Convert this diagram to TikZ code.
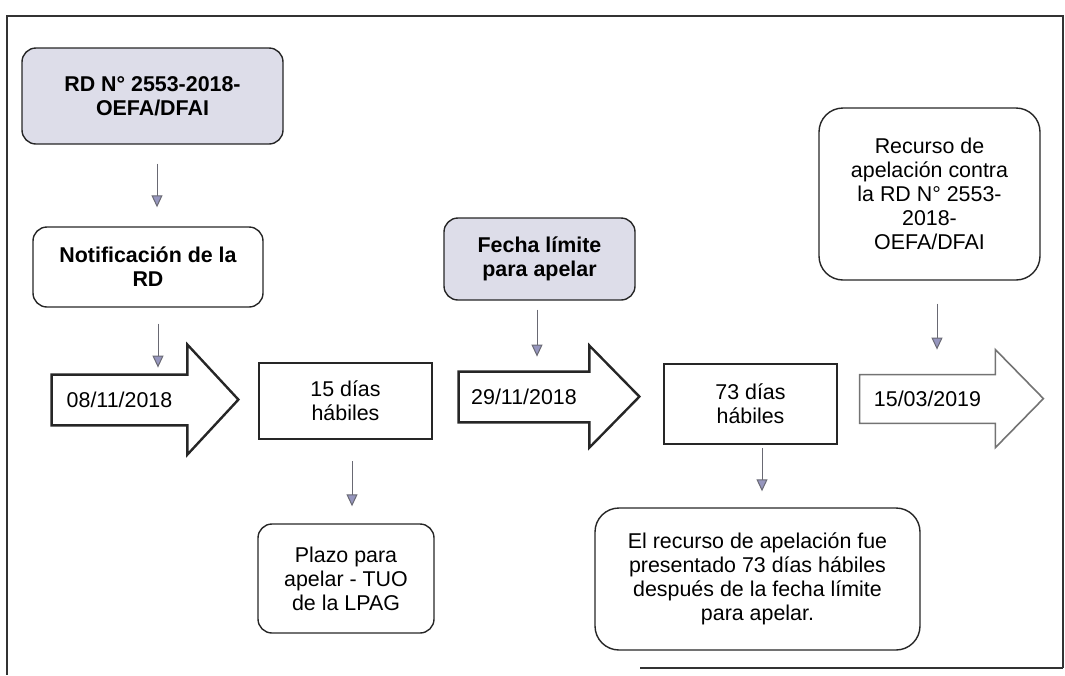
\documentclass[tikz,border=0pt]{standalone}
\usepackage{fontspec}
\setmainfont{Liberation Sans}
\usetikzlibrary{arrows.meta}

\newcommand\boxfont{\fontsize{10.7}{12}\selectfont}

\tikzset{
  roundbox/.style={draw=black!85,line width=0.7pt,rounded corners=7pt,
                   align=center,inner sep=2pt,font=\boxfont},
  greybox/.style={roundbox,fill=kFill,font=\boxfont\bfseries},
  daybox/.style={draw=black!85,line width=1.3pt,align=center,font=\boxfont},
  datebody/.style={inner sep=0pt,font=\boxfont},
  datearrow/.style={draw=black!85,line width=1.2pt,line join=miter},
  link/.style={draw=kLink,line width=0.5pt,-{Triangle[length=6pt,width=5.5pt,fill=kTip]}}
}

\begin{document}
\begin{tikzpicture}[x=0.5pt,y=-0.5pt]
  \definecolor{kFill}{RGB}{221,221,233}
  \definecolor{kLink}{RGB}{105,105,115}
  \definecolor{kTip}{RGB}{150,150,190}

  \useasboundingbox (0,0) rectangle (1065,675);

  % frame
  \draw[black!80,line width=0.75pt] (1063,668) -- (1063,16) -- (7,16) -- (7,675);
  \draw[black!80,line width=0.75pt] (640,668) -- (1063,668);

  % boxes
  \node[greybox,minimum width=130.5pt,minimum height=48pt] (rd) at (152.5,96) {RD N° 2553-2018-\\OEFA/DFAI};
  \node[roundbox,font=\boxfont\bfseries,minimum width=115pt,minimum height=40pt] (notif) at (148,267) {Notificación de la\\RD};
  \node[greybox,minimum width=95.5pt,minimum height=41pt] (fecha) at (539.5,259) {Fecha límite\\para apelar};
  \node[roundbox,rounded corners=12pt,minimum width=110.5pt,minimum height=86pt] (recurso) at (929.5,194)
    {Recurso de\\apelación contra\\la RD N° 2553-\\2018-\\OEFA/DFAI};
  \node[daybox,minimum width=86.5pt,minimum height=38pt] (dias1) at (345.5,401) {15 días\\hábiles};
  \node[daybox,minimum width=86.5pt,minimum height=40pt] (dias2) at (750.5,404) {73 días\\hábiles};
  \node[roundbox,minimum width=88pt,minimum height=54.5pt] (plazo) at (346,578.5) {Plazo para\\apelar - TUO\\de la LPAG};
  \node[roundbox,rounded corners=12pt,minimum width=162.5pt,minimum height=71pt] (nota) at (757.5,579)
    {El recurso de apelación fue\\presentado 73 días hábiles\\después de la fecha límite\\para apelar.};

  % date arrows
  \node[datebody,minimum width=67.5pt,minimum height=25pt] (d1) at (119.5,400) {08/11/2018};
  \draw[datearrow] (d1.north west) -- (d1.north east) -- ++(0,-30) -- ++(51,55) -- ++(-51,55)
    -- (d1.south east) -- (d1.south west) -- cycle;

  \node[datebody,minimum width=65pt,minimum height=25pt] (d2) at (524,397) {29/11/2018};
  \draw[datearrow] (d2.north west) -- (d2.north east) -- ++(0,-26) -- ++(50,51) -- ++(-50,51)
    -- (d2.south east) -- (d2.south west) -- cycle;

  \node[datebody,minimum width=67.5pt,minimum height=24pt] (d3) at (927.5,399) {15/03/2019};
  \draw[datearrow,draw=black!55,line width=0.8pt] (d3.north west) -- (d3.north east) -- ++(0,-25) -- ++(48,49)
    -- ++(-48,49) -- (d3.south east) -- (d3.south west) -- cycle;

  % links
  \foreach \from/\to/\x/\sa/\sb in {rd/notif/157/9.5/9.5, notif/d1/158/8/3.5,
                                   fecha/d2/537/4.5/7.5, recurso/d3/937/11.5/12.5,
                                   dias1/plazo/352/10.5/8.5, dias2/nota/762/1.5/8}
  {
    \draw[link,shorten <=\sa pt,shorten >=\sb pt] (\x,0 |- \from.south) -- (\x,0 |- \to.north);
  }
\end{tikzpicture}
\end{document}
